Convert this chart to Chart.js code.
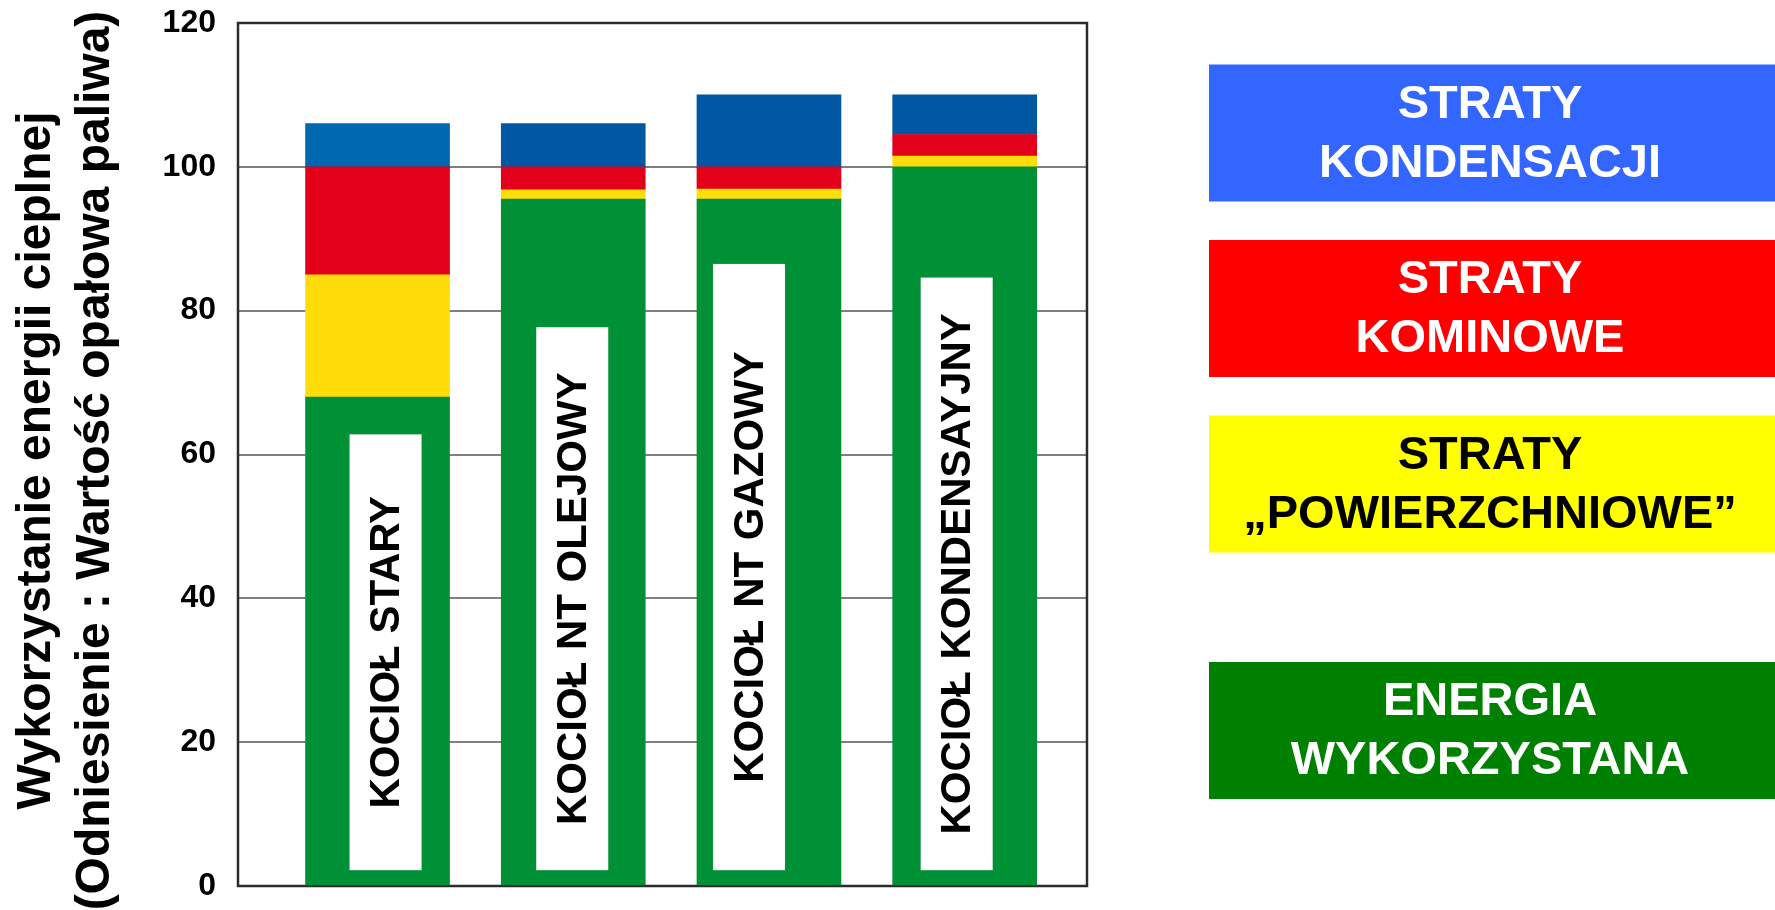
<!DOCTYPE html>
<html>
<head>
<meta charset="utf-8">
<script src="https://cdn.jsdelivr.net/npm/chart.js@4.4.1/dist/chart.umd.min.js"></script>
<style>
  html, body { margin: 0; padding: 0; background: #fff; }
  #wrap { width: 1775px; height: 910px; }
</style>
</head>
<body>
<div id="wrap"><canvas id="lossChart"></canvas></div>
<script>
// boiler types (drawn inside the bars)
const categories = ['KOCIOŁ STARY', 'KOCIOŁ NT OLEJOWY', 'KOCIOŁ NT GAZOWY', 'KOCIOŁ KONDENSAYJNY'];

// stacked parts, bottom to top
const energyUsed = [68, 95.5, 95.5, 100];
const surfaceLoss = [17, 1.3, 1.4, 1.5];
const chimneyLoss = [15, 3.2, 3.1, 3.0];
const condensLoss = [6, 6, 10, 5.5];

// top / bottom of the white label boxes, in axis units
const labelBoxTop = [62.8, 77.7, 86.5, 84.6];
const labelBoxBottom = 2.2;

const yTicks = [0, 20, 40, 60, 80, 100, 120];
const yTitle = ['Wykorzystanie energii cieplnej', '(Odniesienie : Wartość opałowa paliwa)'];

const seriesNames = [
  ['ENERGIA', 'WYKORZYSTANA'],
  ['STRATY', '„POWIERZCHNIOWE”'],
  ['STRATY', 'KOMINOWE'],
  ['STRATY', 'KONDENSACJI']
];

const FONT = "'Liberation Sans', Arial, sans-serif";

function toPoints(arr) {
  return arr.map((v, i) => ({ x: i, y: v }));
}

// frame round the plot area
const framePlugin = {
  id: 'frame',
  beforeDatasetsDraw(chart) {
    const { ctx, chartArea: a } = chart;
    ctx.save();
    ctx.strokeStyle = '#2b2b2b';
    ctx.lineWidth = 2.5;
    ctx.strokeRect(a.left, a.top, a.right - a.left, a.bottom - a.top);
    ctx.restore();
  }
};

// white rotated label boxes inside bars
const labelPlugin = {
  id: 'barLabels',
  afterDatasetsDraw(chart) {
    const { ctx } = chart;
    const y = chart.scales.y;
    const bars = chart.getDatasetMeta(0).data;
    const shift = [44, 35, 16, 28];
    const boxW = 72;
    ctx.save();
    bars.forEach((bar, i) => {
      const left = bar.x - bar.width / 2 + shift[i];
      const top = y.getPixelForValue(labelBoxTop[i]);
      const bottom = y.getPixelForValue(labelBoxBottom);
      ctx.fillStyle = '#ffffff';
      ctx.fillRect(left, top, boxW, bottom - top);
      ctx.save();
      ctx.translate(left + boxW / 2, (top + bottom) / 2);
      ctx.rotate(-Math.PI / 2);
      ctx.fillStyle = '#000';
      ctx.font = 'bold 42px ' + FONT;
      ctx.textAlign = 'center';
      ctx.textBaseline = 'middle';
      ctx.fillText(categories[i], 0, 2);
      ctx.restore();
    });
    ctx.restore();
  }
};

// y axis title, two rotated lines
const yTitlePlugin = {
  id: 'yTitle',
  afterDraw(chart) {
    const { ctx, chartArea: a } = chart;
    const cy = (a.top + a.bottom) / 2 + 6;
    const xs = [37, 96];
    ctx.save();
    ctx.fillStyle = '#000';
    ctx.font = 'bold 48px ' + FONT;
    ctx.textAlign = 'center';
    ctx.textBaseline = 'middle';
    yTitle.forEach((line, i) => {
      ctx.save();
      ctx.translate(xs[i], cy);
      ctx.rotate(-Math.PI / 2);
      ctx.fillText(line, 0, 0);
      ctx.restore();
    });
    ctx.restore();
  }
};

// colour boxes on the right
const legendPlugin = {
  id: 'boxLegend',
  afterDraw(chart) {
    const { ctx } = chart;
    const tops = [64.5, 240, 415.5, 662];
    const left = 1209, w = 566, h = 137;
    const colors = ['#3366ff', '#ff0000', '#ffff00', '#008000'];
    const textColors = ['#fff', '#fff', '#000', '#fff'];
    const names = seriesNames.slice().reverse();
    ctx.save();
    ctx.font = 'bold 47px ' + FONT;
    ctx.textAlign = 'center';
    ctx.textBaseline = 'middle';
    names.forEach((lines, i) => {
      ctx.fillStyle = colors[i];
      ctx.fillRect(left, tops[i], w, h);
      ctx.fillStyle = textColors[i];
      const cy = tops[i] + h / 2;
      ctx.fillText(lines[0], left + w / 2 - 2, cy - 28);
      ctx.fillText(lines[1], left + w / 2 - 2, cy + 31);
    });
    ctx.restore();
  }
};

const ctx = document.getElementById('lossChart').getContext('2d');
const lossChart = new Chart(ctx, {
  type: 'bar',
  data: {
    datasets: [{
      label: seriesNames[0].join(' '),
      data: toPoints(energyUsed),
      backgroundColor: '#009036'
    }, {
      label: seriesNames[1].join(' '),
      data: toPoints(surfaceLoss),
      backgroundColor: '#ffdc0a'
    }, {
      label: seriesNames[2].join(' '),
      data: toPoints(chimneyLoss),
      backgroundColor: '#e2001a'
    }, {
      label: seriesNames[3].join(' '),
      data: toPoints(condensLoss),
      backgroundColor: ['#0067b1', '#0058a3', '#0058a3', '#0058a3']
    }]
  },
  options: {
    responsive: true,
    maintainAspectRatio: false,
    animation: false,
    barThickness: 144,
    layout: {
      padding: { left: 0, right: 688, top: 23, bottom: 24 }
    },
    plugins: {
      legend: { display: false },
      tooltip: { enabled: false }
    },
    scales: {
      x: {
        type: 'linear',
        stacked: true,
        display: false,
        offset: false,
        min: -0.713,
        max: 3.625
      },
      y: {
        stacked: true,
        min: 0,
        max: 120,
        afterFit: (scale) => {
          scale.width = 238;
          scale.paddingTop = 0;
          scale.paddingBottom = 0;
        },
        afterBuildTicks: (scale) => {
          scale.ticks = yTicks.map(v => ({ value: v }));
        },
        border: { display: false },
        grid: {
          color: '#7f7f7f',
          lineWidth: 2,
          drawTicks: false
        },
        ticks: {
          padding: 22,
          color: '#000',
          font: { family: FONT, size: 32, weight: 'bold' }
        }
      }
    }
  },
  plugins: [framePlugin, labelPlugin, yTitlePlugin, legendPlugin]
});
</script>
</body>
</html>
